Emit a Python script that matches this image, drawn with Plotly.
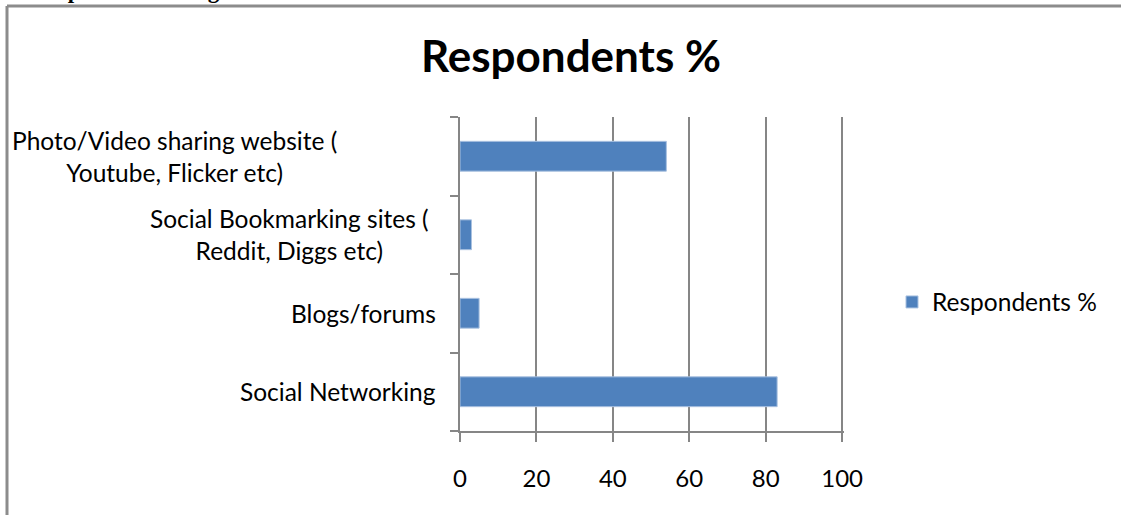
import plotly.graph_objects as go

# Survey data: share of respondents using each kind of social media
categories = [
    "Social Networking",
    "Blogs/forums",
    "Social Bookmarking sites (<br>Reddit, Diggs etc)",
    "Photo/Video sharing website (<br>Youtube, Flicker etc)",
]
respondents_pct = [83, 5, 3, 54]
x_ticks = [0, 20, 40, 60, 80, 100]

W, H = 1121, 515
M_L, M_R, M_T, M_B = 460, 277, 117, 84
PW = W - M_L - M_R
PH = H - M_T - M_B

FONT = "Lato"
AXIS_GRAY = "#868686"
LABEL_SIZE = 24.5

# wrapped labels sit in centred boxes, single-line ones hug the axis
LABEL_PLACEMENT = [
    ("right", 438),
    ("right", 438),
    ("center", 289),
    ("center", 174),
]


def px_x(p):
    return (p - M_L) / PW


def px_y(p):
    return (H - M_B - p) / PH


fig = go.Figure()
fig.add_trace(go.Bar(
    x=respondents_pct,
    y=categories,
    orientation="h",
    name="Respondents %",
    marker=dict(color="#4F81BD", line=dict(color="#a9c1e0", width=1)),
    showlegend=True,
))

for cat, (anchor, xpos) in zip(categories, LABEL_PLACEMENT):
    fig.add_annotation(
        x=px_x(xpos), xref="paper", y=cat, yref="y",
        text=cat, showarrow=False,
        xanchor=anchor, yanchor="middle", align="center",
        font=dict(family=FONT, size=LABEL_SIZE, color="#000000"),
    )

# document heading partly above the chart frame
fig.add_annotation(
    x=px_x(30), xref="paper", y=px_y(-10), yref="paper",
    text="<b>Respondents Using Social Media</b>", showarrow=False,
    xanchor="left", yanchor="middle",
    font=dict(family="Liberation Serif", size=23, color="#000000"),
)

# chart frame
fig.add_shape(type="line", xref="paper", yref="paper",
              x0=px_x(7), x1=px_x(W + 5), y0=px_y(6), y1=px_y(6),
              line=dict(color="#8c8c8c", width=3))
fig.add_shape(type="line", xref="paper", yref="paper",
              x0=px_x(7), x1=px_x(7), y0=px_y(6), y1=px_y(H + 5),
              line=dict(color="#8c8c8c", width=3))

fig.update_layout(
    width=W, height=H,
    margin=dict(l=M_L, r=M_R, t=M_T, b=M_B, autoexpand=False),
    paper_bgcolor="white", plot_bgcolor="white",
    bargap=0.62,
    title=dict(
        text="<b>Respondents %</b>",
        x=571 / W, xref="container", xanchor="center",
        y=1 - 57 / H, yref="container", yanchor="middle",
        font=dict(family=FONT, size=44, color="#000000"),
    ),
    xaxis=dict(
        range=[0, 100.5], tickvals=x_ticks,
        showgrid=True, gridcolor=AXIS_GRAY, gridwidth=1.5,
        showline=True, linecolor=AXIS_GRAY, linewidth=2,
        ticks="outside", ticklen=9, tickcolor=AXIS_GRAY, tickwidth=1.5,
        ticklabelstandoff=16,
        tickfont=dict(family=FONT, size=24, color="#000000"),
        zeroline=False, fixedrange=True,
    ),
    yaxis=dict(
        categoryorder="array", categoryarray=categories,
        showticklabels=False,
        tickson="boundaries", ticks="outside", ticklen=8,
        tickcolor=AXIS_GRAY, tickwidth=1.5,
        showline=True, linecolor=AXIS_GRAY, linewidth=2,
        showgrid=False, zeroline=False, fixedrange=True,
    ),
    legend=dict(
        x=px_x(892), y=px_y(302), xanchor="left", yanchor="middle",
        font=dict(family=FONT, size=LABEL_SIZE, color="#000000"),
        bgcolor="rgba(0,0,0,0)",
    ),
)

fig.write_html("out.html")
